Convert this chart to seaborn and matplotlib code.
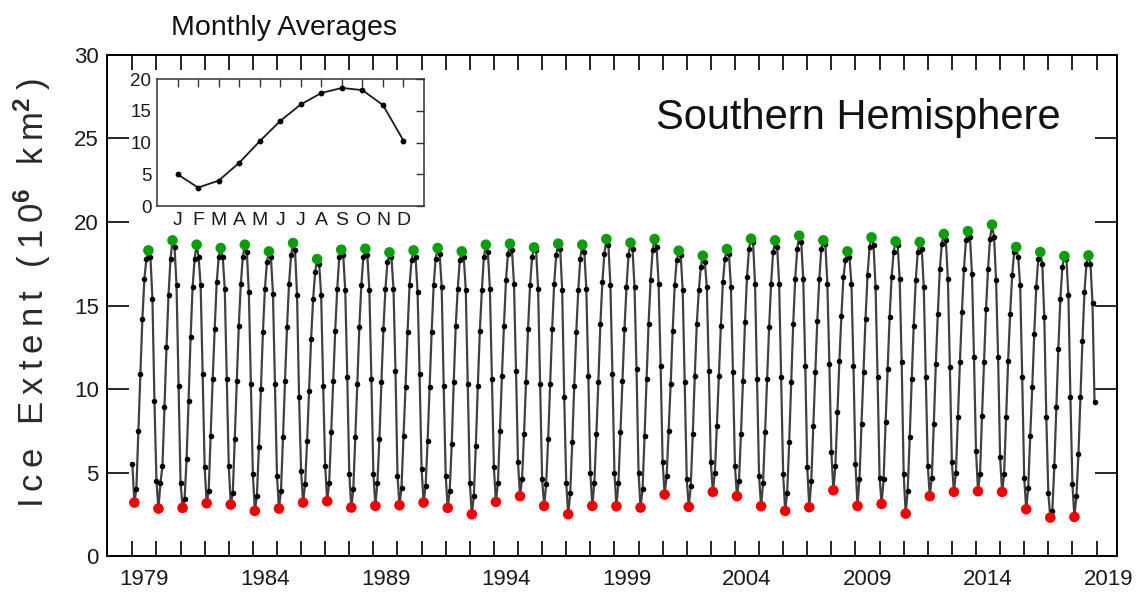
import numpy as np
import pandas as pd
import matplotlib
matplotlib.use("Agg")
import matplotlib.pyplot as plt
import seaborn as sns

# ---------------- data ----------------
years = list(range(1979, 2019))
jan = [5.5, 4.5, 4.4, 5.3, 5.4, 4.9, 4.8, 5.1, 5.4, 4.9, 4.9, 4.8, 5.2, 4.8, 4.4, 5.3, 5.6, 4.6, 4.4, 5.0,
       5.0, 5.0, 5.6, 4.6, 5.6, 5.4, 4.8, 4.9, 5.3, 6.2, 5.5, 4.7, 4.9, 5.4, 5.6, 6.3, 5.9, 4.7, 3.8, 4.3]
feb = [3.2, 2.84, 2.88, 3.16, 3.08, 2.7, 2.84, 3.2, 3.28, 2.9, 3.0, 3.04, 3.2, 2.88, 2.5, 3.24, 3.58, 3.0, 2.5, 3.0,
       2.98, 2.9, 3.68, 2.94, 3.84, 3.58, 2.98, 2.7, 2.92, 3.94, 3.0, 3.12, 2.54, 3.58, 3.84, 3.88, 3.84, 2.8, 2.3, 2.34]
mar = [4.0, 4.4, 3.4, 3.9, 3.8, 3.6, 3.9, 4.3, 4.4, 4.0, 4.4, 4.1, 4.2, 3.9, 3.6, 4.4, 4.6, 4.3, 3.8, 4.4,
       4.4, 4.0, 4.8, 4.2, 5.0, 4.5, 4.4, 3.8, 4.5, 5.4, 4.6, 4.6, 3.9, 4.7, 5.0, 4.9, 4.9, 4.1, 2.7, 3.6]
apr = [7.5, 5.4, 5.8, 7.2, 7.0, 6.5, 7.1, 6.9, 7.4, 7.1, 7.0, 7.2, 6.9, 6.7, 6.6, 7.5, 7.3, 7.0, 6.8, 7.3,
       7.4, 7.2, 7.5, 7.3, 7.8, 7.3, 7.4, 6.8, 7.8, 8.6, 7.9, 8.0, 7.1, 7.9, 8.3, 8.4, 8.3, 7.2, 5.4, 6.1]
may = [10.9, 8.9, 9.3, 10.6, 10.5, 10.0, 10.5, 9.9, 10.5, 10.3, 10.4, 10.1, 10.1, 10.4, 10.2, 10.8, 10.4, 10.3, 10.2, 10.4,
       10.5, 10.6, 10.3, 10.8, 10.8, 10.5, 10.6, 10.4, 11.0, 11.7, 11.0, 11.2, 10.6, 11.5, 11.6, 11.6, 11.7, 10.1, 8.9, 9.5]
jun = [14.2, 12.5, 13.1, 13.6, 13.8, 13.4, 13.7, 13.0, 13.5, 13.7, 13.6, 13.4, 13.4, 13.8, 13.5, 13.8, 13.6, 13.6, 13.4, 13.9,
       13.6, 13.9, 13.5, 13.9, 13.8, 14.0, 13.7, 13.9, 14.1, 14.4, 14.2, 14.3, 13.8, 14.5, 14.6, 14.8, 14.5, 13.3, 12.4, 12.9]
jul = [16.6, 15.6, 16.1, 16.4, 16.3, 16.0, 16.3, 15.4, 16.0, 16.2, 16.0, 16.2, 16.2, 16.0, 15.9, 16.5, 16.2, 16.3, 15.9, 16.4,
       16.1, 16.5, 16.2, 15.9, 16.4, 16.7, 16.3, 16.6, 16.6, 16.7, 16.8, 16.7, 16.5, 17.2, 17.2, 17.2, 16.8, 16.1, 15.4, 15.8]
aug = [17.8, 17.8, 17.8, 17.9, 17.9, 17.6, 18.0, 17.0, 17.9, 17.9, 17.6, 17.7, 17.8, 17.7, 17.9, 18.1, 17.9, 18.0, 17.8, 18.1,
       18.0, 18.3, 17.7, 17.3, 17.8, 18.4, 18.2, 18.4, 18.4, 17.7, 18.5, 18.2, 18.2, 18.7, 18.9, 19.0, 18.2, 17.8, 17.3, 17.5]
sep = [18.3, 18.9, 18.64, 18.44, 18.64, 18.24, 18.74, 17.78, 18.34, 18.4, 18.18, 18.3, 18.44, 18.24, 18.64, 18.7, 18.48, 18.7, 18.64, 18.98,
       18.76, 18.98, 18.28, 17.98, 18.38, 19.0, 18.9, 19.18, 18.9, 18.24, 19.08, 18.84, 18.8, 19.28, 19.45, 19.84, 18.5, 18.2, 17.96, 18.0]
oct_ = [17.9, 18.5, 17.9, 17.9, 18.2, 17.9, 18.3, 17.5, 18.0, 18.0, 17.9, 17.9, 18.1, 17.9, 18.2, 18.3, 18.3, 18.4, 18.2, 18.6,
        18.4, 18.5, 18.0, 17.6, 18.1, 18.8, 18.5, 18.8, 18.7, 17.9, 18.6, 18.6, 18.4, 18.9, 19.1, 19.1, 17.9, 17.5, 17.8, 17.5]
nov = [15.4, 16.2, 16.2, 16.0, 15.8, 15.7, 15.6, 15.6, 15.9, 15.9, 16.0, 15.8, 16.1, 15.9, 16.0, 16.3, 16.0, 15.9, 16.0, 16.2,
       16.1, 16.3, 15.9, 16.1, 16.1, 16.3, 16.3, 16.6, 16.3, 16.3, 16.1, 16.6, 16.1, 16.6, 16.9, 16.5, 16.2, 14.3, 15.6, 15.14]
dec = [9.3, 10.2, 10.9, 10.6, 10.3, 10.3, 9.5, 10.2, 10.7, 10.6, 11.1, 10.9, 10.2, 10.3, 10.6, 11.1, 10.3, 9.5, 10.8, 10.9,
       11.2, 11.4, 10.4, 11.1, 11.0, 10.6, 10.7, 11.4, 11.5, 11.4, 10.7, 11.6, 10.7, 11.3, 11.9, 11.9, 10.7, 8.3, 9.5, 9.24]

month_letters = ["J", "F", "M", "A", "M", "J", "J", "A", "S", "O", "N", "D"]
clim = [5.0, 2.9, 4.0, 6.8, 10.2, 13.4, 16.0, 17.8, 18.6, 18.25, 15.9, 10.3]
label_years = [1979, 1984, 1989, 1994, 1999, 2004, 2009, 2014, 2019]

# ---------------- frames ----------------
monthly = [jan, feb, mar, apr, may, jun, jul, aug, sep, oct_, nov, dec]
rows = []
for i, y in enumerate(years):
    for m in range(12):
        rows.append((y + m / 12.0, monthly[m][i]))
df = pd.DataFrame(rows, columns=["t", "ext"])
max_df = pd.DataFrame({"t": [y + 8 / 12.0 for y in years], "ext": sep})
min_df = pd.DataFrame({"t": [y + 1 / 12.0 for y in years], "ext": feb})
clim_df = pd.DataFrame({"m": np.arange(1, 13), "ext": clim})

# ---------------- style ----------------
sns.set_style("white")
plt.rcParams["font.family"] = ["Liberation Sans", "DejaVu Sans"]
plt.rcParams["mathtext.fontset"] = "custom"
plt.rcParams["mathtext.rm"] = "Liberation Sans"
plt.rcParams["mathtext.it"] = "Liberation Sans"
plt.rcParams["mathtext.bf"] = "Liberation Sans:bold"

fig = plt.figure(figsize=(11.46, 5.92), dpi=100)
ax = fig.add_axes([0.0934, 0.0608, 0.8813, 0.8463])

sns.lineplot(data=df, x="t", y="ext", ax=ax, color="#404040", lw=1.6,
             marker="o", markersize=4.0, markerfacecolor="black",
             markeredgecolor="black", markeredgewidth=0, errorbar=None, sort=False)
sns.scatterplot(data=max_df, x="t", y="ext", ax=ax, color="#0a9e0a", s=58,
                edgecolor="none", zorder=5)
sns.scatterplot(data=min_df, x="t", y="ext", ax=ax, color="#f20000", s=58,
                edgecolor="none", zorder=5)

ax.set_xlim(1977.95, 2019.85)
ax.set_ylim(0, 30)
ax.set_xlabel("")
ax.set_ylabel("")
ax.set_xticks(list(range(1979, 2020)))
ax.set_xticklabels([])
ax.set_xticks([y + 0.5 for y in label_years], minor=True)
ax.set_xticklabels([str(y) for y in label_years], minor=True, fontsize=16)
ax.tick_params(axis="x", which="major", direction="in", length=11, width=1.2,
               top=True, bottom=True, color="black")
ax.tick_params(axis="x", which="minor", length=0, pad=9, labelcolor="#1a1a1a")
ax.set_yticks([0, 5, 10, 15, 20, 25, 30])
ax.set_yticklabels(["0", "5", "10", "15", "20", "25", "30"], fontsize=16)
ax.tick_params(axis="y", direction="in", length=16, width=1.2, left=True, right=True,
               color="black", pad=6, labelcolor="#1a1a1a")
for s in ax.spines.values():
    s.set_color("black")
    s.set_linewidth(1.4)

ts = "\u2009"
ylab = (ts.join("Ice") + ts + " " + ts + ts.join("Extent") + ts + " " + ts + ts.join("(10")
        + "$^{\\mathbf{6}}$" + ts + " " + ts + ts.join("km") + "$^{\\mathbf{2}}$" + ts + ")")
fig.text(0.028, 0.505, ylab, rotation=90, ha="center", va="center", fontsize=25,
         color="#2a2a2a")
fig.text(0.749, 0.80, "Southern Hemisphere", ha="center", va="center", fontsize=30,
         color="#111111")
fig.text(0.248, 0.952, "Monthly Averages", ha="center", va="center", fontsize=20.5,
         color="#111111")

# ---------------- inset ----------------
ax2 = fig.add_axes([0.137, 0.652, 0.233, 0.2145])
ax2.set_facecolor("white")
sns.lineplot(data=clim_df, x="m", y="ext", ax=ax2, color="#1a1a1a", lw=1.3,
             marker="o", markersize=4.2, markerfacecolor="black",
             markeredgecolor="black", markeredgewidth=0, errorbar=None)
ax2.set_xlim(0, 13)
ax2.set_ylim(0, 20)
ax2.set_xlabel("")
ax2.set_ylabel("")
ax2.set_xticks(list(range(1, 13)))
ax2.set_xticklabels(month_letters, fontsize=14)
ax2.set_yticks([0, 5, 10, 15, 20])
ax2.set_yticklabels(["0", "5", "10", "15", "20"], fontsize=13.5)
ax2.tick_params(axis="both", direction="in", length=6, width=1.0,
                top=True, right=True, color="#333333", pad=4, labelcolor="#1a1a1a")
for s in ax2.spines.values():
    s.set_color("#333333")
    s.set_linewidth(1.1)

fig.savefig("out.png", dpi=100, facecolor="white")
